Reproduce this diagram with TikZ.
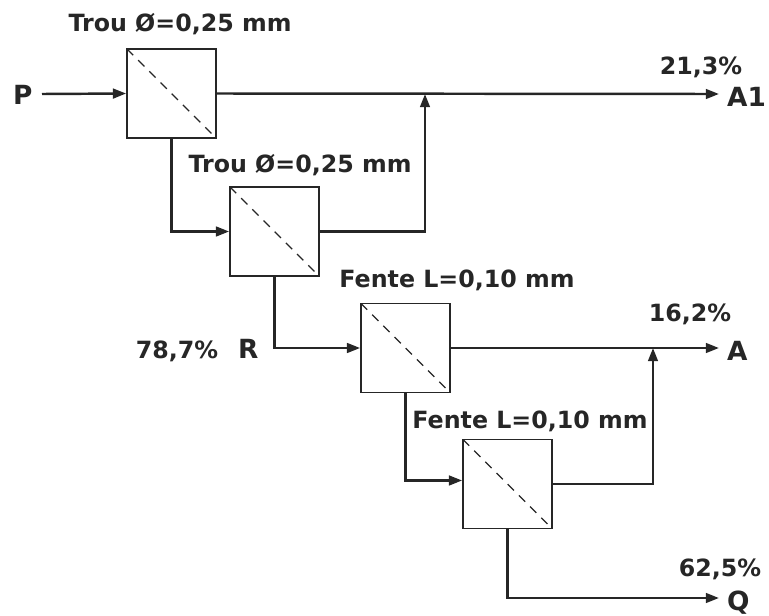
\documentclass[tikz,border=0pt]{standalone}
\usepackage{fontspec}
\setmainfont{DejaVu Sans}
\usetikzlibrary{arrows.meta}
\begin{document}
\begin{tikzpicture}[x=0.02cm,y=-0.02cm,
  unit/.style={draw=black!85,line width=1pt,minimum size=1.78cm,inner sep=0pt,
    path picture={\draw[line width=0.8pt,dash pattern=on 5pt off 4pt] (path picture bounding box.north west) -- (path picture bounding box.south east);}},
  flow/.style={draw=black!85,line width=1.4pt,-{Triangle[length=7.5pt,width=5.5pt]}},
  lbl/.style={font=\fontsize{13.5}{15}\selectfont\bfseries,text=black!85,inner sep=1pt},
  big/.style={font=\fontsize{15}{17}\selectfont\bfseries,text=black!85,inner sep=1pt}]
\useasboundingbox (0,0) rectangle (769,616);
\node[unit] (b1) at (171.5,93.5) {};
\node[unit] (b2) at (274.5,231.5) {};
\node[unit] (b3) at (405.5,348) {};
\node[unit] (b4) at (507.5,484) {};
\node[lbl] (t1) at (180,24) {Trou Ø=0,25 mm};
\node[lbl] (t2) at (300,165) {Trou Ø=0,25 mm};
\node[lbl] (t3) at (457,280) {Fente L=0,10 mm};
\node[lbl] (t4) at (530,421) {Fente L=0,10 mm};
\node[big,anchor=west] (P) at (11,95) {P};
\node[big,anchor=west] (A1) at (725,97) {A1};
\node[lbl] (p1) at (701,67) {21,3\%};
\node[big,anchor=west] (R) at (236,349) {R};
\node[lbl] (p2) at (177,351) {78,7\%};
\node[big,anchor=west] (A) at (725,351) {A};
\node[lbl] (p3) at (690,314) {16,2\%};
\node[big,anchor=west] (Q) at (725,603) {Q};
\node[lbl] (p4) at (720,569) {62,5\%};
\coordinate (j1) at (425,94);
\coordinate (j2) at (653,348);
\coordinate (e1) at (719,94);
\coordinate (e2) at (719,348);
\coordinate (e3) at (719,598);
\coordinate (s1) at (42,94);
\draw[flow] (s1) -- (b1.west);
\draw[flow] (b1.east) -- (e1);
\draw[flow] (b1.south) |- (b2.west);
\draw[flow] (b2.east) -| (j1);
\draw[flow] (b2.south) |- (b3.west);
\draw[flow] (b3.east) -- (e2);
\draw[flow] (b3.south) |- ([yshift=2]b4.west);
\draw[flow] (b4.east) -| (j2);
\draw[flow] (b4.south) |- (e3);
\end{tikzpicture}
\end{document}
